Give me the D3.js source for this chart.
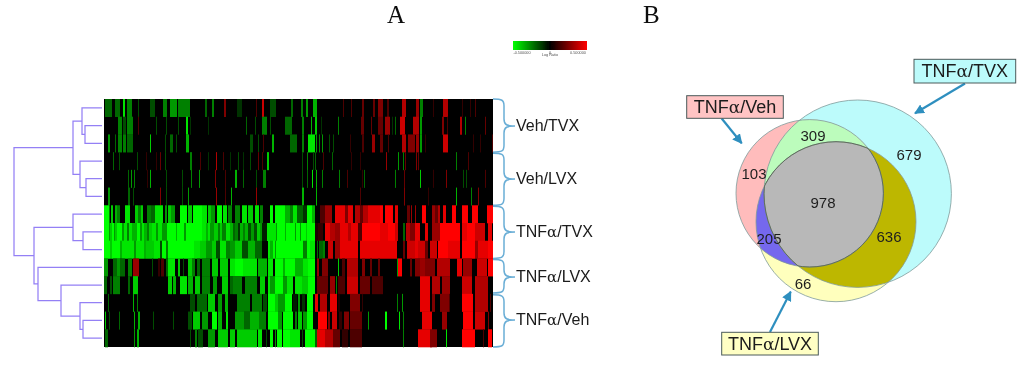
<!DOCTYPE html>
<html><head><meta charset="utf-8">
<script src="https://cdn.jsdelivr.net/npm/d3@7/dist/d3.min.js"></script>
<style>html,body{margin:0;padding:0;background:#fff}svg{display:block}</style>
</head><body><svg id="c" width="1024" height="381"></svg>
<script>
// ---------- DATA ----------
const rowNames = ["V1","V2","V3","L1","L2","L3","T1","T2","T3","X1","X2","N1","N2","N3"];
// each entry: [first gene, last gene, log-ratio in tenths; green negative, red positive]
const r0 = [[1,8,-4],[11,16,-4],[19,21,-9],[23,28,-5],[34,35,-3],[46,51,-3],[59,63,-5],[66,73,-6],[74,86,-5],[101,103,-4],[108,110,-5],[120,122,5],[133,138,-2],[152,153,3],[158,160,8],[166,172,-3],[187,189,-4],[197,199,-5],[202,204,-6],[209,213,-7],[239,240,3],[247,248,3],[258,260,4],[269,271,4],[274,279,5],[283,285,3],[298,302,7],[312,315,6],[316,319,-5],[329,330,2],[339,344,7],[358,359,2],[366,367,2],[371,372,3]];
const r1 = [[14,18,-5],[19,22,-3],[23,29,-5],[34,35,3],[52,53,-3],[62,63,-3],[74,75,-3],[82,84,-9],[86,87,-2],[104,105,-2],[142,143,-4],[151,152,-3],[158,163,-5],[166,167,-3],[181,188,-4],[198,200,-5],[207,208,-7],[211,213,-8],[217,218,-2],[234,235,-5],[257,260,4],[267,268,4],[274,279,4],[281,286,6],[288,289,-2],[291,292,-4],[296,301,8],[309,315,7],[316,318,-6],[338,340,5],[343,344,3],[356,358,7],[361,362,-5],[381,382,4]];
const r2 = [[4,6,-6],[11,12,-4],[14,18,-5],[19,22,-5],[23,29,-4],[46,47,-8],[61,62,-3],[66,69,-4],[72,73,-3],[82,85,-7],[146,149,-3],[154,155,-3],[159,160,3],[168,170,-7],[186,193,-4],[198,200,-5],[204,211,-9],[212,213,-6],[215,216,-5],[218,219,-6],[225,226,-3],[229,230,-3],[246,247,2],[258,260,3],[268,271,6],[276,279,4],[284,285,3],[298,302,7],[304,311,5],[312,315,6],[316,318,-6],[321,322,2],[339,344,8],[369,370,2],[376,377,2],[388,389,3]];
const r3 = [[9,10,-4],[15,16,-3],[33,34,-3],[42,43,2],[52,53,2],[56,57,4],[61,62,-3],[86,88,-5],[96,97,3],[104,105,-2],[112,113,7],[119,120,3],[126,127,-2],[134,135,-3],[139,140,-2],[146,147,-3],[154,155,4],[158,159,3],[163,165,-8],[198,199,-3],[203,204,-5],[209,210,-3],[211,212,-4],[219,220,3],[228,229,-4],[247,248,2],[256,257,2],[282,283,6],[294,295,-6],[299,300,-5],[301,302,4],[312,313,5],[314,315,4],[352,353,-5],[364,365,3]];
const r4 = [[24,25,-4],[27,28,-6],[30,31,-5],[43,44,2],[46,47,-7],[62,63,-3],[78,79,-3],[87,88,-5],[95,96,-6],[111,112,5],[121,122,3],[131,133,-7],[139,140,-4],[152,153,-3],[159,162,-5],[198,199,-3],[203,204,-4],[208,209,-9],[212,213,-7],[218,219,-5],[235,236,-5],[243,244,3],[258,259,2],[260,261,-4],[291,292,-5],[300,301,4],[316,317,-8],[329,330,2],[342,343,5],[359,360,-3],[362,363,-3],[381,382,3]];
const r5 = [[4,6,-6],[24,26,-4],[29,30,-3],[56,57,5],[62,63,-3],[78,79,-3],[84,85,-6],[112,113,6],[121,122,3],[127,128,-7],[152,153,6],[198,200,-7],[212,213,-7],[256,257,3],[300,301,5],[324,325,2],[352,353,-7],[367,368,-5],[374,375,5]];
const r6 = [[0,5,-10],[5,6,-5],[7,9,-8],[11,13,-7],[13,16,-5],[21,26,-9],[31,34,-8],[34,37,-5],[37,39,-8],[43,47,-5],[47,51,-4],[51,59,-9],[61,63,-6],[64,67,-8],[67,71,-6],[76,83,-10],[84,88,-8],[89,98,-10],[98,103,-9],[104,107,-8],[107,111,-6],[113,118,-10],[119,123,-9],[124,128,-5],[131,136,-5],[138,143,-9],[144,149,-8],[151,155,-9],[156,159,-5],[166,169,-10],[171,181,-10],[181,186,-7],[186,189,-5],[189,193,-9],[193,199,-4],[199,203,-2],[203,208,-10],[208,211,-7],[216,221,3],[221,228,6],[231,241,9],[241,244,5],[244,249,9],[251,256,7],[256,259,4],[259,264,7],[264,276,9],[276,279,10],[281,289,10],[291,294,9],[303,306,4],[307,308,6],[311,312,6],[318,322,10],[328,331,6],[331,334,4],[334,336,7],[339,342,9],[348,352,10],[358,364,10],[368,374,10],[383,389,10]];
const r7 = [[0,5,-10],[5,6,-6],[6,8,-8],[8,10,-10],[10,11,-6],[11,13,-8],[13,18,-10],[18,20,-6],[20,23,-9],[23,25,-5],[25,28,-9],[28,33,-7],[33,36,-10],[36,38,-6],[38,40,-9],[40,43,-7],[43,45,-5],[45,48,-8],[48,52,-9],[52,54,-6],[54,58,-9],[58,63,-6],[63,72,-10],[72,73,-7],[73,80,-10],[80,82,-6],[82,98,-10],[98,102,-9],[102,104,-7],[104,106,-9],[106,110,-6],[110,114,-8],[114,116,-5],[116,118,-8],[118,122,-5],[122,126,-9],[126,129,-7],[129,131,-4],[131,134,-5],[134,136,-2],[136,139,-7],[139,141,-5],[141,144,-7],[144,147,-3],[147,150,-6],[150,153,-3],[153,156,-8],[156,158,-6],[158,163,-1],[163,172,-9],[172,173,-6],[173,181,-10],[181,182,-7],[182,191,-10],[191,192,-6],[192,196,-10],[196,197,-6],[197,202,-10],[202,203,-8],[203,211,-10],[211,214,1],[214,219,2],[221,226,9],[226,231,7],[231,236,6],[236,244,9],[244,247,7],[247,254,9],[254,258,3],[258,276,10],[276,284,9],[284,291,10],[291,294,8],[299,301,-4],[302,306,7],[306,311,5],[311,316,9],[321,324,9],[328,336,6],[336,344,10],[344,356,10],[358,363,9],[363,371,10],[371,381,8],[384,388,9]];
const r8 = [[0,6,-10],[6,8,-8],[8,16,-10],[16,18,-7],[18,30,-9],[30,32,-6],[32,40,-9],[40,42,-7],[42,50,-8],[50,56,-9],[56,58,-3],[58,62,-10],[62,64,-5],[64,90,-10],[90,96,-9],[96,102,-8],[102,108,-6],[108,112,-8],[112,116,-3],[116,122,-9],[122,126,-5],[126,131,-6],[131,138,-8],[138,144,-3],[144,151,-7],[151,158,-4],[164,166,-9],[166,169,-7],[169,171,-10],[171,172,-6],[172,199,-10],[199,203,-5],[203,206,-10],[206,211,-9],[213,214,-4],[215,219,-4],[219,221,-5],[224,229,8],[231,236,6],[236,254,9],[256,276,9],[276,293,9],[299,301,4],[303,311,8],[311,314,9],[314,321,8],[321,324,4],[326,333,8],[334,344,10],[344,356,9],[358,371,10],[371,374,6],[374,384,9],[384,389,10]];
const r9 = [[0,4,-6],[9,13,-4],[13,16,-6],[16,21,-4],[24,28,-5],[29,35,6],[48,49,-3],[54,56,2],[57,60,3],[62,64,-4],[64,71,-9],[74,76,-8],[79,80,-3],[84,88,-8],[88,91,-5],[93,96,-4],[98,106,-5],[108,114,-8],[116,124,-8],[126,131,-9],[131,139,-10],[139,153,-9],[154,163,-7],[164,169,-9],[171,179,-10],[179,181,-7],[181,191,-10],[191,199,-7],[199,204,-9],[204,211,-10],[213,215,6],[218,224,5],[234,235,-8],[238,241,3],[243,254,7],[258,261,5],[266,268,4],[274,276,4],[293,294,-6],[294,298,10],[306,308,4],[311,316,5],[316,321,6],[321,331,5],[333,346,7],[353,358,9],[359,368,6],[373,383,8],[384,389,10]];
const r10 = [[0,3,-4],[6,8,-3],[9,16,-5],[24,26,-4],[29,34,-8],[64,68,-8],[69,72,-7],[76,83,-9],[84,89,-7],[91,96,-8],[98,106,-5],[109,113,-6],[118,124,-8],[126,129,-4],[129,138,-5],[141,153,-5],[156,161,-8],[164,166,-9],[166,171,-6],[171,179,-10],[179,183,-6],[183,189,-9],[191,198,-9],[198,204,-8],[204,211,-10],[213,224,4],[226,231,6],[232,233,-5],[234,241,3],[243,254,8],[256,266,4],[268,276,3],[276,279,3],[316,326,9],[328,336,7],[338,346,6],[358,368,8],[371,384,7]];
const r11 = [[4,5,-4],[29,30,-7],[33,34,-5],[86,91,-3],[93,103,-4],[104,111,-8],[114,118,-6],[121,124,-7],[133,146,-5],[148,158,-5],[159,163,-3],[164,171,-10],[171,174,-8],[174,181,-6],[181,188,-10],[189,193,-1],[194,196,-6],[198,201,-2],[203,209,-10],[211,214,9],[216,223,7],[226,233,9],[234,236,1],[246,256,5],[258,259,2],[293,294,-5],[298,299,-6],[316,326,9],[328,331,5],[336,345,5],[345,346,3],[358,369,10],[371,384,7],[386,387,3]];
const r12 = [[1,2,-8],[5,6,-3],[15,16,-4],[30,31,-7],[34,36,-7],[49,50,-3],[69,70,-3],[84,88,-3],[89,96,-8],[98,104,-6],[108,113,-10],[114,118,-7],[122,124,-9],[131,140,-6],[140,146,-4],[146,155,-7],[155,162,-5],[164,174,-10],[174,178,-6],[179,189,-10],[191,193,-5],[194,198,-8],[199,203,-6],[203,209,-10],[214,223,10],[224,226,5],[228,233,8],[235,238,2],[240,245,5],[246,258,4],[264,265,-6],[281,283,-10],[295,296,-9],[299,300,-5],[318,328,9],[338,343,6],[359,369,10],[371,381,8],[384,385,5]];
const r13 = [[1,4,-4],[30,31,-6],[33,35,-7],[86,87,-3],[91,93,-5],[94,99,-3],[104,111,-6],[114,124,-8],[126,131,-8],[133,153,-8],[154,158,-9],[162,163,-3],[166,169,-10],[171,172,-6],[173,178,-10],[179,186,-10],[186,196,-9],[198,199,-3],[201,211,-10],[211,213,-4],[213,221,9],[221,229,7],[229,236,4],[238,244,2],[246,258,3],[299,300,-5],[314,328,9],[326,333,5],[342,343,-9],[358,371,10],[379,380,3],[384,388,10]];
const heatValues = [r0,r1,r2,r3,r4,r5,r6,r7,r8,r9,r10,r11,r12,r13];
const geneCount = 389;

const groupNames = ["Veh/TVX","Veh/LVX","TNFα/TVX","TNFα/LVX","TNFα/Veh"];
const groupSpans = [[0,3],[3,6],[6,9],[9,11],[11,14]];

// dendrogram: [left, right, merge depth]
const dendro = [[[0,[1,2,85],82],[3,[4,5,86],80],73],
  [[6,[7,8,83],73],[9,[10,[11,[12,13,83],80],61],38],34],14];

const legendTicks = ["-0.500000","0","0.500000"];
const legendTitle = "Log Ratio";

const vennSets = ["TNFα/Veh","TNFα/TVX","TNFα/LVX"];
const vennRegionLabels = ["103","309","679","978","205","636","66"];
const panelLabels = ["A","B"];

// ---------- DRAW ----------
const svg = d3.select("#c");
const defs = svg.append("defs");
defs.append("filter").attr("id","soft").append("feGaussianBlur").attr("stdDeviation",0.5);
defs.append("filter").attr("id","softT").append("feGaussianBlur").attr("stdDeviation",0.3);

const hmX = d3.scaleLinear().domain([0,geneCount]).range([104,493]);
const hmY = d3.scaleBand().domain(d3.range(rowNames.length)).range([99,347]);
const heatColor = d3.scaleLinear().domain([-10,0,10]).range(["#00ff00","#000000","#ff0000"]);

// panel letters
svg.append("g").attr("font-family","'Liberation Serif',serif").attr("font-size",25).attr("fill","#111").attr("filter","url(#softT)")
  .selectAll("text").data(panelLabels).join("text")
  .attr("x",(d,i)=>[387,643][i]).attr("y",22.5).text(d=>d);

// heatmap
const hm = svg.append("g").attr("filter","url(#soft)");
hm.append("rect").attr("x",hmX(0)).attr("y",hmY(0)).attr("width",hmX(geneCount)-hmX(0)).attr("height",hmY.step()*rowNames.length).attr("fill","#000");
hm.selectAll("g").data(heatValues).join("g").attr("transform",(d,i)=>`translate(0,${hmY(i)})`)
  .selectAll("rect").data(d=>d).join("rect")
  .attr("x",d=>hmX(d[0])).attr("width",d=>hmX(d[1])-hmX(d[0])).attr("y",0).attr("height",hmY.bandwidth()+.3)
  .attr("fill",d=>heatColor(d[2]));

// dendrogram
const dg = svg.append("g").attr("fill","none").attr("stroke","#9480f5").attr("stroke-width",1.25).attr("filter","url(#softT)");
const leafX = 102;
function drawNode(n){
  if(typeof n==="number") return {x:leafX,y:hmY(n)+hmY.bandwidth()/2};
  const a=drawNode(n[0]),b=drawNode(n[1]),x=n[2];
  dg.append("path").attr("d",d3.line()([[a.x,a.y],[x,a.y],[x,b.y],[b.x,b.y]]));
  return {x,y:(a.y+b.y)/2};
}
drawNode(dendro);

// braces + labels
const braceColor="#6aaed6";
const gb = svg.append("g");
const braceMids = [126,179,232,277,320];
groupNames.forEach((name,i)=>{
  const t=hmY(groupSpans[i][0])+(i?1:0), b=i===3?293:hmY(groupSpans[i][1]-1)+hmY.bandwidth(), m=braceMids[i];
  const x0=493,x1=504,x2=515;
  gb.append("path").attr("fill","none").attr("stroke",braceColor).attr("stroke-width",1.5).attr("filter","url(#softT)")
    .attr("d",`M${x0},${t} C${x1-2},${t} ${x1},${t+1} ${x1},${t+7} L${x1},${m-7} C${x1},${m-1} ${x1+3},${m} ${x2},${m} C${x1+3},${m} ${x1},${m+1} ${x1},${m+7} L${x1},${b-7} C${x1},${b-1} ${x1-2},${b} ${x0},${b}`);
  const parts=name.split("α");
  const tx=gb.append("text").attr("x",516).attr("y",m+5).attr("font-family","'Liberation Sans',Arial,sans-serif").attr("font-size",16).attr("fill","#1a1a1a").attr("filter","url(#softT)");
  tx.append("tspan").text(parts[0]);
  if(parts.length>1){ tx.append("tspan").attr("font-family","'DejaVu Serif',serif").attr("font-size",15).text("α"); tx.append("tspan").text(parts[1]); }
});

// colour legend
const lgX = d3.scaleLinear().domain([-10,10]).range([513,587]);
const lgGrad = defs.append("linearGradient").attr("id","lgGrad");
lgGrad.selectAll("stop").data(lgX.domain().concat([0]).sort(d3.ascending)).join("stop")
  .attr("offset",d=>(lgX(d)-513)/74).attr("stop-color",d=>heatColor(d));
const lg = svg.append("g").attr("filter","url(#softT)");
lg.append("rect").attr("x",lgX(-10)).attr("y",41).attr("width",lgX(10)-lgX(-10)).attr("height",9).attr("fill","url(#lgGrad)");
lg.selectAll("text.t").data(legendTicks).join("text").attr("class","t")
  .attr("x",(d,i)=>[522,550,578][i]).attr("y",53.5).attr("text-anchor","middle")
  .attr("font-family","'Liberation Sans',sans-serif").attr("font-size",3.8).attr("fill","#555").text(d=>d);
lg.append("text").attr("x",550).attr("y",56).attr("text-anchor","middle").attr("font-family","'Liberation Sans',sans-serif").attr("font-size",3.8).attr("fill","#555").text(legendTitle);

// venn
const pink={cx:809.7,cy:193.3,r:73.7}, cyan={cx:857.7,cy:193.7,r:93.7}, yellow={cx:836,cy:221.7,r:80};
const vg=svg.append("g").attr("filter","url(#softT)");
const circ=(g,c)=>g.append("circle").attr("cx",c.cx).attr("cy",c.cy).attr("r",c.r);
[["cp",pink],["cc",cyan],["cy",yellow]].forEach(([id,c])=>circ(defs.append("clipPath").attr("id",id),c));
defs.append("clipPath").attr("id","cpc").attr("clip-path","url(#cp)").call(s=>circ(s,cyan));
circ(vg,cyan).attr("fill","#bcfbfb");
circ(vg,yellow).attr("fill","#ffffbd");
circ(vg,pink).attr("fill","#ffbcbc");
circ(vg.append("g").attr("clip-path","url(#cp)"),cyan).attr("fill","#bcfcbc");
circ(vg.append("g").attr("clip-path","url(#cp)"),yellow).attr("fill","#7468ee");
circ(vg.append("g").attr("clip-path","url(#cc)"),yellow).attr("fill","#bdb700");
circ(vg.append("g").attr("clip-path","url(#cpc)"),yellow).attr("fill","#b8b8b8");
[cyan,yellow,pink].forEach(c=>circ(vg,c).attr("fill","none").attr("stroke","#7f9a9a").attr("stroke-width",.8));
const inner=vg.append("g").attr("clip-path","url(#cc)");
circ(inner.append("g").attr("clip-path","url(#cy)"),pink).attr("fill","none").attr("stroke","#55604f").attr("stroke-width",.8);
circ(inner.append("g").attr("clip-path","url(#cp)"),yellow).attr("fill","none").attr("stroke","#55604f").attr("stroke-width",.8);
circ(vg.append("g").attr("clip-path","url(#cp)").append("g").attr("clip-path","url(#cy)"),cyan).attr("fill","none").attr("stroke","#55604f").attr("stroke-width",.8);

vg.append("g").attr("font-family","'Liberation Sans',Arial,sans-serif").attr("font-size",15).attr("fill","#1f1f1f").attr("text-anchor","middle")
  .selectAll("text").data(vennRegionLabels).join("text")
  .attr("x",(d,i)=>[754,813,909,823,769,889,803][i]).attr("y",(d,i)=>[178.5,141,159.5,207.5,243.5,241.5,288.5][i]).text(d=>d);

// arrows
const arrowColor="#2f8fbf";
defs.append("marker").attr("id","ah").attr("viewBox","0 0 10 10").attr("refX",9).attr("refY",5).attr("markerWidth",4.5).attr("markerHeight",4.5).attr("orient","auto")
  .append("path").attr("d","M0,0L10,5L0,10Z").attr("fill",arrowColor);
vg.append("g").attr("stroke",arrowColor).attr("stroke-width",2.2).selectAll("line")
  .data([[721.7,118.5,741.7,143.3],[965,83.5,915,113.3],[770,332,790.7,291.7]]).join("line")
  .attr("x1",d=>d[0]).attr("y1",d=>d[1]).attr("x2",d=>d[2]).attr("y2",d=>d[3]).attr("marker-end","url(#ah)");

// venn name boxes
const boxes=[[686.7,95.7,96.6,22.6,"#ffc4c4"],[914,59.3,101.7,23.7,"#bcfbfb"],[721.7,332.3,96.6,22.7,"#ffffc4"]];
vennSets.forEach((name,i)=>{
  const [x,y,w,h,f]=boxes[i];
  vg.append("rect").attr("x",x).attr("y",y).attr("width",w).attr("height",h).attr("fill",f).attr("stroke","#4a5a5a").attr("stroke-width",1);
  const parts=name.split("α");
  const t=vg.append("text").attr("x",x+w/2).attr("y",y+h/2+6.3).attr("text-anchor","middle").attr("font-family","'Liberation Sans',Arial,sans-serif").attr("font-size",18).attr("fill","#1a1a1a");
  t.append("tspan").text(parts[0]);
  t.append("tspan").attr("font-family","'DejaVu Serif',serif").attr("font-size",17).text("α");
  t.append("tspan").text(parts[1]);
});
</script></body></html>
